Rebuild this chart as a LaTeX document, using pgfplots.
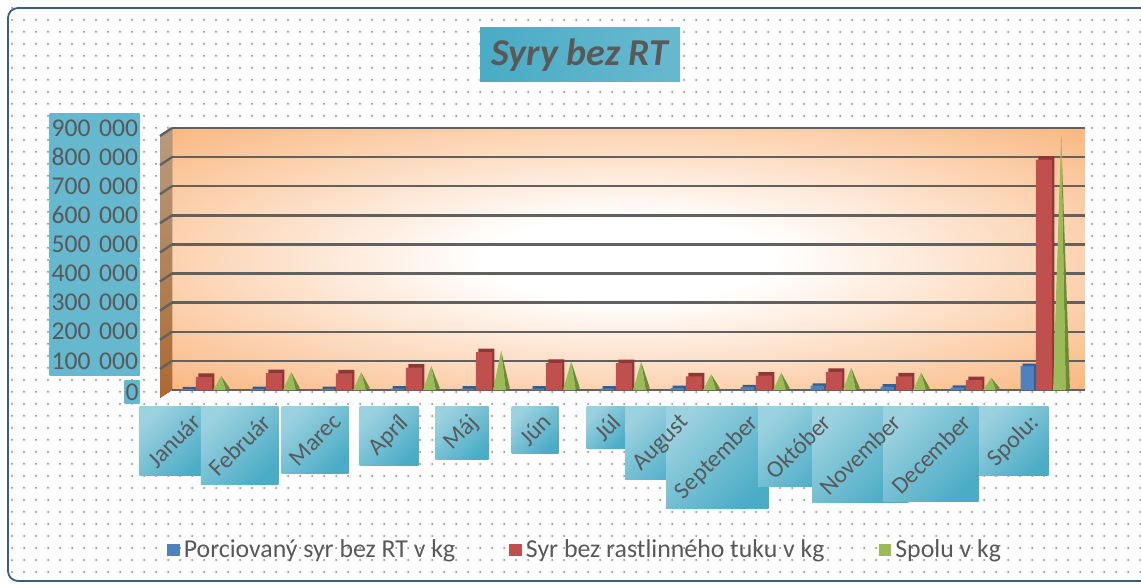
\documentclass[border=0pt]{standalone}
\usepackage{fontspec}
\setmainfont{Carlito}
\usepackage{graphicx}
\usepackage{pgfplots}
\usepackage{pgfplotstable}
\pgfplotsset{compat=1.18}
\usetikzlibrary{patterns.meta}

\definecolor{blue1}{RGB}{79,129,189}
\definecolor{blue2}{RGB}{56,93,138}
\definecolor{red1}{RGB}{192,80,77}
\definecolor{red2}{RGB}{140,56,54}
\definecolor{green1}{RGB}{155,187,89}
\definecolor{green2}{RGB}{110,138,55}
\definecolor{aqua}{RGB}{75,172,198}
\definecolor{orng}{RGB}{247,150,70}
\definecolor{txt}{RGB}{89,89,89}
\definecolor{framec}{RGB}{56,93,138}

\pgfdeclareradialshading{wall}{\pgfpoint{0bp}{0bp}}{color(0bp)=(white); color(8bp)=(white); color(48bp)=(orng); color(72bp)=(orng)}

\pgfplotstableread{
x blue red green
0 3000 45000 48000
1 4000 58000 62000
2 4000 57000 61000
3 5000 77000 82000
4 5000 130000 135000
5 5000 93000 98000
6 5000 92000 97000
7 7000 47000 54000
8 10000 49000 59000
9 15000 62000 77000
10 12000 47000 59000
11 8000 34000 42000
12 83000 791000 874000
}\data

\def\catlabels{\rotatebox{45}{Január},\rotatebox{45}{Február},\rotatebox{45}{Marec},\rotatebox{45}{Apríl},\rotatebox{45}{Máj},\rotatebox{45}{Jún},\rotatebox{45}{Júl},\rotatebox{45}{August},\rotatebox{45}{September},\rotatebox{45}{Október},\rotatebox{45}{November},\rotatebox{45}{December},\rotatebox{45}{Spolu:}}
\def\catboxes{\phantom{\rotatebox{45}{Január}},\phantom{\rotatebox{45}{Február}},\phantom{\rotatebox{45}{Marec}},\phantom{\rotatebox{45}{Apríl}},\phantom{\rotatebox{45}{Máj}},\phantom{\rotatebox{45}{Jún}},\phantom{\rotatebox{45}{Júl}},\phantom{\rotatebox{45}{August}},\phantom{\rotatebox{45}{September}},\phantom{\rotatebox{45}{Október}},\phantom{\rotatebox{45}{November}},\phantom{\rotatebox{45}{December}},\phantom{\rotatebox{45}{Spolu:}}}

\begin{document}
\begin{tikzpicture}[x=0.5pt,y=0.5pt]
% background
\fill[white] (0,0) rectangle (1141,584);
\fill[pattern={Dots[distance=6pt, radius=0.5pt]}, pattern color=black!50] (8,3) rectangle (1141,576);
\draw[framec, line width=0.9pt, rounded corners=5pt] (8,3) rectangle (1150,576);
% title
\node[left color=aqua, middle color=white, right color=aqua!85, shading angle=100,
      minimum width=100pt, minimum height=27pt, inner sep=0pt,
      font=\fontsize{19}{21}\selectfont\bfseries\itshape, text=txt] at (580,529) {Syry bez RT};

\begin{axis}[
  at={(86pt,97pt)}, anchor=south west, scale only axis,
  width=456.5pt, height=131pt,
  xmin=-0.457, xmax=12.586, ymin=0, ymax=900000,
  axis background/.style={shading=wall},
  axis line style={draw=none},
  major tick length=0pt,
  clip=false,
  scaled y ticks=false,
  ytick={100000,200000,300000,400000,500000,600000,700000,800000,900000},
  yticklabels={100~000,200~000,300~000,400~000,500~000,600~000,700~000,800~000,900~000},
  extra y ticks={0},
  extra y tick labels={0},
  extra y tick style={yticklabel style={text width=, minimum width=6pt, minimum height=11pt, inner xsep=0.5pt, yshift=-1pt}},
  ymajorgrids,
  major grid style={draw=black!62, line width=1.2pt},
  yticklabel style={anchor=east, xshift=-16pt, text width=43pt, align=right,
     inner xsep=1pt, inner ysep=0pt, minimum height=14.55pt,
     top color=aqua!85, middle color=white, bottom color=aqua!85, shading angle=0,
     font=\fontsize{12.8}{14}\selectfont, text=txt},
  xtick={0,...,12},
  xticklabels/.expand once=\catboxes,
  xticklabel style={anchor=north east, yshift=-8pt, xshift=2.5pt, inner sep=3pt,
     left color=aqua!55, middle color=white, right color=aqua, shading angle=45,
     font=\fontsize{12}{14}\selectfont},
  extra x ticks={0,...,12},
  extra x tick labels/.expand once=\catlabels,
  extra x tick style={every x tick label/.style={anchor=north east, yshift=-8pt, xshift=2.5pt, inner sep=3pt,
     font=\fontsize{12}{14}\selectfont, text=txt}},
  legend columns=3,
  legend style={at={(0.4535,-0.611)}, anchor=center, draw=none, fill=none,
     font=\fontsize{12.9}{14}\selectfont, text=txt,
     /tikz/every even column/.append style={column sep=25pt}},
  legend image code/.code={\path[#1] (0pt,-3.2pt) rectangle (6.4pt,3.2pt);},
]
% side wall
\fill[top color=black!30!brown!60, bottom color=orng!70!black] (axis cs:-0.628,-27000) -- (axis cs:-0.628,873000) -- (axis cs:-0.457,900000) -- (axis cs:-0.457,0) -- cycle;
\pgfplotsinvokeforeach{1,...,9}{
  \draw[black!62, line width=1.2pt] (axis cs:-0.457,#100000) -- ++(-6pt,-4pt);
}

\addlegendimage{fill=blue1, draw=none}
\addlegendentry{Porciovaný syr bez RT v kg}
\addlegendimage{fill=red1, draw=none}
\addlegendentry{Syr bez rastlinného tuku v kg}
\addlegendimage{fill=green1, draw=none}
\addlegendentry{Spolu v kg}

% blue bars (with depth)
\addplot[ybar, bar width=0.19, bar shift=-0.21, fill=blue2, draw=none, forget plot]
  table[x=x, y expr=\thisrow{blue}+8000] {\data};
\addplot[ybar, bar width=0.19, bar shift=-0.24, fill=blue1, draw=none, forget plot]
  table[x=x, y=blue] {\data};
% red bars (with depth)
\addplot[ybar, bar width=0.23, bar shift=0.035, fill=red2, draw=none, forget plot]
  table[x=x, y expr=\thisrow{red}+12000] {\data};
\addplot[ybar, bar width=0.23, bar shift=0, fill=red1, draw=none, forget plot]
  table[x=x, y=red] {\data};
% green pyramids
\pgfplotsinvokeforeach{0,...,12}{
  \pgfplotstablegetelem{#1}{green}\of\data
  \let\gv\pgfplotsretval
  \pgfmathsetmacro\xl{#1+0.13}
  \pgfmathsetmacro\xc{#1+0.245}
  \pgfmathsetmacro\xr{#1+0.31}
  \pgfmathsetmacro\xs{#1+0.37}
  \edef\temp{%
    \noexpand\addplot[fill=green2, draw=none, forget plot] coordinates {(\xc,\gv) (\xr,0) (\xs,6000) (\xc,\gv)};
    \noexpand\addplot[fill=green1, draw=none, forget plot] coordinates {(\xl,0) (\xc,\gv) (\xr,0) (\xl,0)};
  }\temp
}
\end{axis}
\pgfresetboundingbox
\useasboundingbox (0,0) rectangle (1141,584);
\end{tikzpicture}
\end{document}
